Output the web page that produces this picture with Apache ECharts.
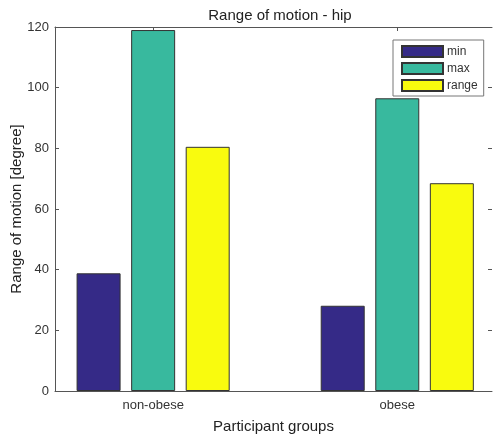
<!DOCTYPE html>
<html>
<head>
<meta charset="utf-8">
<script src="https://cdn.jsdelivr.net/npm/echarts@6/dist/echarts.min.js"></script>
<style>
html,body{margin:0;padding:0;background:#fff;}
#chart{width:493px;height:438px;}
</style>
</head>
<body>
<div id="chart"></div>
<script>
const categories = ['non-obese', 'obese'];
const categoryPositions = [1, 2];
const seriesNames = ['min', 'max', 'range'];
const minValues = [38.8, 28.1];
const maxValues = [119.0, 96.5];
const rangeValues = [80.5, 68.5];
const yTicks = [0, 20, 40, 60, 80, 100, 120];

const colors = ['#352a87', '#38b99e', '#f9fb0e'];
const font = 'Liberation Sans, Arial, sans-serif';
const axisColor = '#555';
const textColor = '#333';

const chart = echarts.init(document.getElementById('chart'), null, {renderer: 'canvas'});

function toPairs(vals) {
  return vals.map((v, i) => [categoryPositions[i], v]);
}

const allValues = [minValues, maxValues, rangeValues];

const option = {
  animation: false,
  backgroundColor: '#fff',
  textStyle: {fontFamily: font},
  title: {
    text: 'Range of motion - hip',
    left: 275,
    textAlign: 'center',
    top: 3,
    textStyle: {fontFamily: font, fontSize: 15, fontWeight: 'normal', color: '#222'}
  },
  legend: {
    orient: 'vertical',
    left: 393,
    top: 40,
    data: seriesNames,
    icon: 'rect',
    itemWidth: 41,
    itemHeight: 11,
    itemGap: 4,
    padding: [5, 6, 4, 8],
    borderColor: '#777',
    borderWidth: 1,
    backgroundColor: '#fff',
    textStyle: {fontFamily: font, fontSize: 12, color: textColor, lineHeight: 12, padding: [0, 0, 0, -1]}
  },
  grid: {left: 55, right: 1, top: 27, bottom: 47, containLabel: false, outerBoundsMode: 'none'},
  xAxis: [
    {
      type: 'value',
      min: 0.598,
      max: 2.388,
      position: 'bottom',
      axisLine: {show: true, onZero: false, lineStyle: {color: axisColor, width: 1}},
      axisTick: {show: true, inside: true, length: 4, customValues: categoryPositions, lineStyle: {color: axisColor}},
      axisLabel: {
        show: true,
        customValues: categoryPositions,
        formatter: v => categories[categoryPositions.indexOf(Math.round(v))] || '',
        fontFamily: font, fontSize: 13, color: textColor, margin: 8
      },
      splitLine: {show: false},
      name: 'Participant groups',
      nameLocation: 'middle',
      nameGap: 28,
      nameMoveOverlap: false,
      nameTextStyle: {fontFamily: font, fontSize: 15, color: '#222'}
    },
    {
      type: 'value',
      min: 0.598,
      max: 2.388,
      position: 'top',
      axisLine: {show: true, onZero: false, lineStyle: {color: axisColor, width: 1}},
      axisTick: {show: true, inside: true, length: 4, customValues: categoryPositions, lineStyle: {color: axisColor}},
      axisLabel: {show: false},
      splitLine: {show: false}
    }
  ],
  yAxis: [
    {
      type: 'value',
      min: 0,
      max: 120,
      interval: 20,
      position: 'left',
      axisLine: {show: true, onZero: false, lineStyle: {color: axisColor, width: 1}},
      axisTick: {show: true, inside: true, length: 4, lineStyle: {color: axisColor}},
      axisLabel: {fontFamily: font, fontSize: 13, color: textColor, margin: 6,
        formatter: v => yTicks.includes(v) ? String(v) : ''},
      splitLine: {show: false},
      name: 'Range of motion [degree]',
      nameLocation: 'middle',
      nameGap: 31,
      nameMoveOverlap: false,
      nameTextStyle: {fontFamily: font, fontSize: 15, color: '#222'}
    },
    {
      type: 'value',
      min: 0,
      max: 120,
      interval: 20,
      position: 'right',
      axisLine: {show: false},
      axisTick: {show: true, inside: true, length: 4, lineStyle: {color: axisColor}},
      axisLabel: {show: false},
      splitLine: {show: false}
    }
  ],
  series: seriesNames.map((name, i) => ({
    name: name,
    type: 'bar',
    xAxisIndex: 0,
    yAxisIndex: 0,
    data: toPairs(allValues[i]),
    barWidth: 44,
    barGap: '24%',
    itemStyle: {color: colors[i], borderColor: '#333', borderWidth: 1}
  }))
};

chart.setOption(option);
</script>
</body>
</html>
